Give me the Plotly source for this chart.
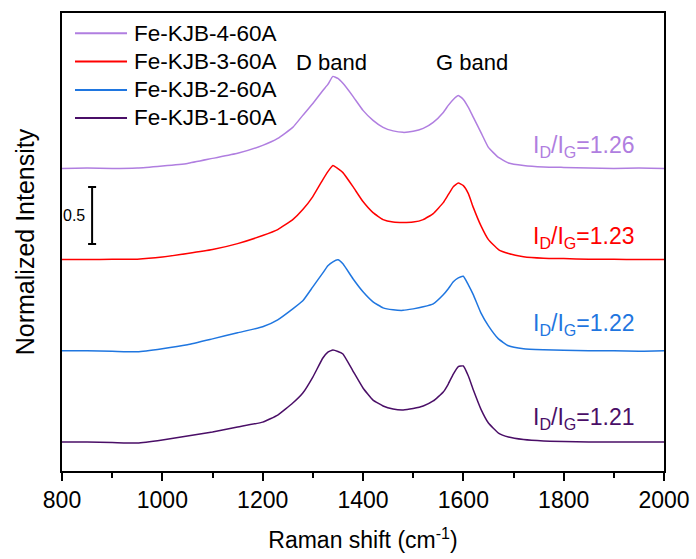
import plotly.graph_objects as go

# Raman shift grid (cm^-1)
shift = [800, 850, 900, 950, 1000, 1050, 1100, 1150, 1200, 1230, 1260, 1280, 1300,
         1320, 1330, 1340, 1350, 1360, 1380, 1400, 1420, 1440, 1460, 1480, 1500,
         1520, 1540, 1560, 1570, 1580, 1590, 1600, 1610, 1620, 1635, 1650, 1670,
         1690, 1720, 1760, 1800, 1850, 1900, 1950, 2000]

# Normalized intensities (before vertical stacking)
fe_kjb_4 = [0, 0.004, 0, 0.004, 0.022, 0.044, 0.088, 0.132, 0.202, 0.263, 0.360, 0.465, 0.570,
            0.684, 0.737, 0.807, 0.789, 0.746, 0.632, 0.509, 0.421, 0.360, 0.329, 0.316, 0.325,
            0.351, 0.404, 0.491, 0.553, 0.605, 0.640, 0.605, 0.535, 0.447, 0.316, 0.184, 0.096,
            0.048, 0.026, 0.013, 0.009, 0.004, 0, 0.004, 0]
fe_kjb_3 = [0, 0, 0.004, 0.004, 0.022, 0.053, 0.088, 0.140, 0.211, 0.263, 0.351, 0.439, 0.553,
            0.702, 0.772, 0.825, 0.798, 0.763, 0.640, 0.509, 0.412, 0.351, 0.329, 0.325, 0.329,
            0.351, 0.404, 0.500, 0.570, 0.640, 0.671, 0.649, 0.579, 0.456, 0.298, 0.175, 0.088,
            0.053, 0.026, 0.013, 0.009, 0.004, 0.004, 0, 0]
fe_kjb_2 = [0, 0, -0.004, -0.009, 0.018, 0.053, 0.105, 0.158, 0.211, 0.272, 0.368, 0.439, 0.561,
            0.684, 0.746, 0.781, 0.798, 0.763, 0.632, 0.518, 0.430, 0.377, 0.360, 0.355, 0.368,
            0.386, 0.412, 0.491, 0.544, 0.605, 0.640, 0.654, 0.579, 0.491, 0.333, 0.219, 0.105,
            0.044, 0.018, 0.009, 0.004, 0, 0, -0.004, 0]
fe_kjb_1 = [0, 0, -0.004, -0.009, 0.018, 0.053, 0.088, 0.132, 0.175, 0.237, 0.342, 0.430, 0.570,
            0.737, 0.789, 0.807, 0.794, 0.772, 0.623, 0.474, 0.368, 0.316, 0.289, 0.281, 0.294,
            0.316, 0.360, 0.439, 0.509, 0.596, 0.662, 0.667, 0.579, 0.456, 0.289, 0.167, 0.079,
            0.044, 0.022, 0.009, 0.004, 0, 0, 0, 0]

names = ["Fe-KJB-4-60A", "Fe-KJB-3-60A", "Fe-KJB-2-60A", "Fe-KJB-1-60A"]
spectra = [fe_kjb_4, fe_kjb_3, fe_kjb_2, fe_kjb_1]
offsets = [2.4, 1.6, 0.8, 0.0]
colors = ["#B07EE0", "#FF0000", "#1F76E0", "#4A0E67"]
ratios = ["1.26", "1.23", "1.22", "1.21"]
ratio_label_y = [0.19, 0.19, 0.23, 0.21]   # label height above each baseline

FONT = "Liberation Sans, Arial, sans-serif"

fig = go.Figure()
for name, ys, off, col in zip(names, spectra, offsets, colors):
    fig.add_trace(go.Scatter(
        x=shift, y=[v + off for v in ys], mode="lines", name=name, showlegend=False,
        line=dict(color=col, width=1.5, shape="spline", smoothing=0.4),
    ))

annotations = []
shapes = []

# key in the upper-left corner: coloured line sample + sample name
key_rows = [0.956, 0.894, 0.832, 0.771]
for name, col, ky in zip(names, colors, key_rows):
    shapes.append(dict(type="line", xref="paper", yref="paper", x0=0.0216, x1=0.108,
                       y0=ky, y1=ky, line=dict(color=col, width=2)))
    annotations.append(dict(x=0.117, y=ky, xref="paper", yref="paper", xanchor="left",
                            yanchor="middle", text=name, showarrow=False,
                            font=dict(family=FONT, size=22.5, color="black")))

for r, off, col, dy in zip(ratios, offsets, colors, ratio_label_y):
    annotations.append(dict(
        x=1946, y=off + dy, xref="x", yref="y", xanchor="right", yanchor="middle",
        text=f"I<sub>D</sub>/I<sub>G</sub>={r}", showarrow=False,
        font=dict(family=FONT, size=23, color=col),
    ))

# band labels
for txt, xpos in [("D band", 1337), ("G band", 1617)]:
    annotations.append(dict(
        x=xpos, y=3.33, xref="x", yref="y", text=txt, showarrow=False,
        font=dict(family=FONT, size=22, color="black"),
    ))

# intensity scale bar
bar_x, bar_y0, bar_len, cap = 860, 1.737, 0.5, 8
shapes += [
    dict(type="line", xref="x", yref="y", x0=bar_x, x1=bar_x, y0=bar_y0, y1=bar_y0 + bar_len,
         line=dict(color="black", width=2)),
    dict(type="line", xref="x", yref="y", x0=bar_x - cap, x1=bar_x + cap, y0=bar_y0, y1=bar_y0,
         line=dict(color="black", width=2)),
    dict(type="line", xref="x", yref="y", x0=bar_x - cap, x1=bar_x + cap,
         y0=bar_y0 + bar_len, y1=bar_y0 + bar_len, line=dict(color="black", width=2)),
]
annotations.append(dict(
    x=824, y=bar_y0 + bar_len / 2, xref="x", yref="y", text="0.5", showarrow=False,
    font=dict(family=FONT, size=16, color="black"),
))

fig.update_layout(
    width=696, height=559,
    margin=dict(l=62, r=32, t=13, b=88),
    paper_bgcolor="white", plot_bgcolor="white",
    font=dict(family=FONT, color="black"),
    annotations=annotations,
    shapes=shapes,
    xaxis=dict(
        range=[800, 2000], dtick=200, tick0=800, automargin=False,
        ticks="outside", ticklen=8, tickwidth=1.5, tickcolor="black",
        minor=dict(dtick=100, ticks="outside", ticklen=5, tickwidth=1.5, tickcolor="black"),
        showline=True, linecolor="black", linewidth=1.5, mirror=True,
        showgrid=False, zeroline=False,
        tickfont=dict(family=FONT, size=23, color="black"),
        title=dict(text="Raman shift (cm<sup>-1</sup>)", standoff=20,
                   font=dict(family=FONT, size=23, color="black")),
    ),
    yaxis=dict(
        range=[-0.254, 3.763], showticklabels=False, ticks="", automargin=False,
        showline=True, linecolor="black", linewidth=1.5, mirror=True,
        showgrid=False, zeroline=False,
        title=dict(text="Normalized Intensity", standoff=19,
                   font=dict(family=FONT, size=25, color="black")),
    ),
)

fig.write_html("out.html")
